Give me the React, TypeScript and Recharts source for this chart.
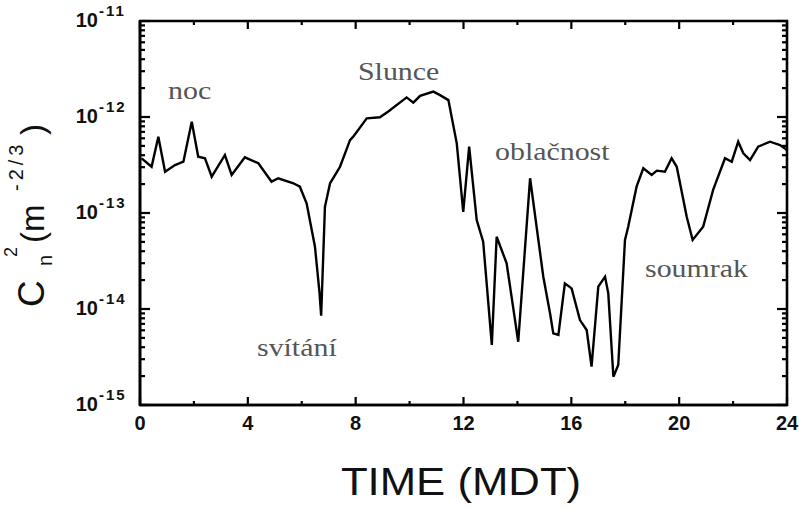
import React from 'react';
import { LineChart, Line, XAxis, YAxis, ReferenceArea } from 'recharts';

// Time of day (hours, MDT)
const hours = [
  0.06, 0.43, 0.68, 0.93, 1.30, 1.61, 1.92, 2.16, 2.41, 2.66, 3.15, 3.40, 3.89, 4.39, 4.88, 5.13,
  5.69, 5.93, 6.18, 6.49, 6.66, 6.72, 6.86, 7.05, 7.42, 7.79, 7.91, 8.41, 8.90, 9.21, 9.89, 10.14,
  10.39, 10.88, 11.13, 11.44, 11.75, 11.99, 12.21, 12.49, 12.73, 13.05, 13.23, 13.60, 14.03, 14.47,
  14.96, 15.21, 15.33, 15.52, 15.76, 16.01, 16.32, 16.57, 16.75, 17.00, 17.25, 17.37, 17.56, 17.74,
  17.99, 18.11, 18.42, 18.67, 18.98, 19.17, 19.47, 19.72, 19.91, 20.28, 20.50, 20.89, 21.26, 21.70,
  21.95, 22.19, 22.38, 22.63, 22.93, 23.37, 23.74, 24.0,
];

// Cn^2 (m^-2/3)
const cn2 = [
  3.7e-13, 3.03e-13, 6.24e-13, 2.69e-13, 3.16e-13, 3.42e-13, 8.93e-13, 3.85e-13, 3.72e-13, 2.39e-13,
  4.02e-13, 2.49e-13, 3.8e-13, 3.3e-13, 2.12e-13, 2.3e-13, 2.04e-13, 1.88e-13, 1.26e-13, 4.46e-14,
  1.46e-14, 8.5e-15, 1.16e-13, 2.04e-13, 3.03e-13, 5.75e-13, 6.24e-13, 9.68e-13, 9.93e-13, 1.14e-12,
  1.6e-12, 1.41e-12, 1.66e-12, 1.84e-12, 1.69e-12, 1.5e-12, 5.32e-13, 1.03e-13, 4.91e-13, 8.45e-14,
  5.02e-14, 4.22e-15, 5.66e-14, 2.99e-14, 4.56e-15, 2.3e-13, 2.17e-14, 9.02e-15, 5.58e-15, 5.36e-15,
  1.85e-14, 1.64e-14, 7.67e-15, 6.04e-15, 2.51e-15, 1.71e-14, 2.17e-14, 1.46e-14, 1.97e-15, 2.61e-15,
  5.24e-14, 7.19e-14, 1.88e-13, 2.92e-13, 2.49e-13, 2.76e-13, 2.69e-13, 3.72e-13, 3.03e-13, 9.14e-14,
  5.24e-14, 7.19e-14, 1.74e-13, 3.72e-13, 3.42e-13, 5.53e-13, 4.19e-13, 3.56e-13, 4.91e-13, 5.53e-13,
  5.11e-13, 4.53e-13,
];

const xMajorTicks = [0, 4, 8, 12, 16, 20, 24];
const xMinorTicks = [2, 6, 10, 14, 18, 22];
const xAllTicks = [...xMajorTicks, ...xMinorTicks].sort((a, b) => a - b);
const yDecades = [1e-15, 1e-14, 1e-13, 1e-12, 1e-11];
const yMantissas = [2, 3, 4, 5, 6, 7, 8, 9];
const yMinorTicks = yDecades.slice(0, 4).flatMap((d) => yMantissas.map((m) => m * d));
const yAllTicks = [...yDecades, ...yMinorTicks].sort((a, b) => a - b);

// annotation texts and their left/baseline anchor in pixels
const noteTexts = ['noc', 'Slunce', 'oblačnost', 'svítání', 'soumrak'];
const noteX = [168, 358, 495, 257, 645];
const noteY = [99, 80, 160, 356, 277];

const xTitle = 'TIME (MDT)';

const data = hours.map((t, i) => ({ t, v: cn2[i] }));

// layout
const W = 803;
const H = 509;
const MARGIN = { top: 21, right: 16, bottom: 44, left: 40 };
const Y_AXIS_W = 100;
const X_AXIS_H = 60;
const PLOT_LEFT = MARGIN.left + Y_AXIS_W;
const PLOT_TOP = MARGIN.top;
const PLOT_RIGHT = W - MARGIN.right;
const PLOT_BOTTOM = H - MARGIN.bottom - X_AXIS_H;

const SANS = '"Liberation Sans", Arial, Helvetica, sans-serif';
const SERIF = '"Liberation Serif", "Times New Roman", serif';
const INK = '#000';
const TICK_W = 2.2;

const XTick = (p: any) => {
  const v = p.payload.value;
  const major = xMajorTicks.includes(v);
  const len = major ? 8 : 4;
  return (
    <g>
      <line x1={p.x} x2={p.x} y1={PLOT_BOTTOM} y2={PLOT_BOTTOM - len} stroke={INK} strokeWidth={TICK_W} />
      <line x1={p.x} x2={p.x} y1={PLOT_TOP} y2={PLOT_TOP + len} stroke={INK} strokeWidth={TICK_W} />
      {major && (
        <text x={p.x} y={PLOT_BOTTOM + 25} textAnchor="middle" fontFamily={SANS} fontWeight="bold" fontSize={20} fill="#111">
          {v}
        </text>
      )}
    </g>
  );
};

const isDecade = (v: number) => yDecades.some((d) => Math.abs(v / d - 1) < 1e-6);

const YTick = (p: any) => {
  const v = p.payload.value;
  const major = isDecade(v);
  const len = major ? 10 : 5;
  const exp = String(Math.round(Math.log10(v)));
  return (
    <g>
      <line x1={PLOT_LEFT} x2={PLOT_LEFT + len} y1={p.y} y2={p.y} stroke={INK} strokeWidth={TICK_W} />
      <line x1={PLOT_RIGHT} x2={PLOT_RIGHT - len} y1={p.y} y2={p.y} stroke={INK} strokeWidth={TICK_W} />
      {major && (
        <g>
          <text x={PLOT_LEFT - 42} y={p.y + 6} textAnchor="end" fontFamily={SANS} fontWeight="bold" fontSize={20} fill="#111">
            10
          </text>
          <text x={PLOT_LEFT - 41} y={p.y - 5} fontFamily={SANS} fontWeight="bold" fontSize={15} letterSpacing={2} fill="#111">
            {exp}
          </text>
        </g>
      )}
    </g>
  );
};

const Overlay = () => (
  <svg width={W} height={H} style={{ position: 'absolute', left: 0, top: 0, pointerEvents: 'none' }}>
    <g transform="translate(44,307) rotate(-90)" fontFamily={SANS} fill="#111">
      <text x={0} y={0} fontSize={37}>C</text>
      <text x={41} y={8} fontSize={20}>n</text>
      <text x={50} y={-27} fontSize={18}>2</text>
      <text x={64} y={0} fontSize={33}>(m</text>
      <text x={116} y={-21} fontSize={20} letterSpacing={4}>-2/3</text>
      <text x={172} y={0} fontSize={33}>)</text>
    </g>
    <text transform="translate(461,495) scale(1.15,1)" textAnchor="middle" fontFamily={SANS} fontSize={38} fill="#111">
      {xTitle}
    </text>
    {noteTexts.map((text, i) => (
      <text key={text} transform={`translate(${noteX[i]},${noteY[i]}) scale(1.15,1)`} fontFamily={SERIF} fontSize={26} fill="#555">
        {text}
      </text>
    ))}
  </svg>
);

export default function App() {
  return (
    <div style={{ position: 'absolute', left: 0, top: 0, width: W, height: H, background: '#fff' }}>
      <LineChart width={W} height={H} data={data} margin={MARGIN}>
        <XAxis
          xAxisId="x"
          dataKey="t"
          type="number"
          domain={[0, 24]}
          allowDataOverflow
          ticks={xAllTicks}
          interval={0}
          tickLine={false}
          tickSize={0}
          tickMargin={0}
          axisLine={{ stroke: INK, strokeWidth: 2.6 }}
          height={X_AXIS_H}
          tick={XTick}
        />
        <YAxis
          yAxisId="y"
          scale="log"
          type="number"
          domain={[1e-15, 1e-11]}
          allowDataOverflow
          ticks={yAllTicks}
          interval={0}
          tickLine={false}
          tickSize={0}
          tickMargin={0}
          axisLine={{ stroke: INK, strokeWidth: 2.6 }}
          width={Y_AXIS_W}
          tick={YTick}
        />
        <ReferenceArea
          xAxisId="x"
          yAxisId="y"
          x1={0}
          x2={24}
          y1={1e-15}
          y2={1e-11}
          fill="none"
          stroke={INK}
          strokeWidth={2.6}
          ifOverflow="visible"
        />
        <Line
          xAxisId="x"
          yAxisId="y"
          type="linear"
          dataKey="v"
          stroke={INK}
          strokeWidth={2.4}
          dot={false}
          isAnimationActive={false}
        />
      </LineChart>
      <Overlay />
    </div>
  );
}
